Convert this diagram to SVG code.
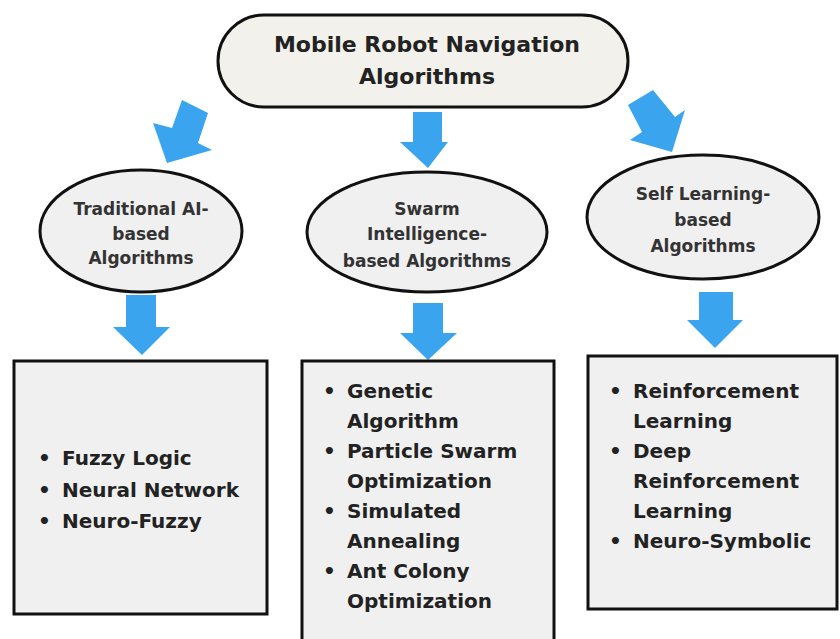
<svg xmlns="http://www.w3.org/2000/svg" width="840" height="639" viewBox="0 0 840 639">
<style>
.shape{fill:#f0f0f0;stroke:#111;stroke-width:3}
.arrow{fill:#3aa4ef}
.t{font-family:"DejaVu Sans","Open Sans",sans-serif;font-weight:700;fill:#222}
.h{font-size:22px;text-anchor:middle}
.e{font-size:17px;text-anchor:middle;fill:#333}
.b{font-size:20px}
</style>
<rect x="0" y="0" width="840" height="639" fill="#ffffff"/>
<g id="connectors">
<polygon class="arrow" points="182,100 208,113 198,143 212,150 167,163 153,123 172,128"/>
<polygon class="arrow" points="413,112 442,112 442,142 448,142 428,168 400,142 413,142"/>
<polygon class="arrow" points="628,105 653,90 675,117 685,110 672,152 630,140 642,132"/>
<polygon class="arrow" points="126,295 156,295 156,327 170,327 142,355 113,327 126,327"/>
<polygon class="arrow" points="413,303 443,303 443,333 457,333 428,360 400,333 413,333"/>
<polygon class="arrow" points="699,292 733,292 733,320 743,320 715,348 687,320 699,320"/>
</g>
<g id="root">
<rect class="shape" x="218" y="15" width="410" height="92" rx="46" ry="46" style="fill:#f2f1ec"/>
<text class="t h" x="427" y="52">Mobile Robot Navigation</text>
<text class="t h" x="427" y="84">Algorithms</text>
</g>
<g id="traditional">
<ellipse class="shape" cx="141" cy="231" rx="101" ry="61"/>
<text class="t e" x="141" y="215">Traditional AI-</text>
<text class="t e" x="141" y="240">based</text>
<text class="t e" x="141" y="264">Algorithms</text>
</g>
<g id="swarm">
<ellipse class="shape" cx="427" cy="232" rx="120" ry="60"/>
<text class="t e" x="427" y="215">Swarm</text>
<text class="t e" x="427" y="240">Intelligence-</text>
<text class="t e" x="427" y="267">based Algorithms</text>
</g>
<g id="selflearning">
<ellipse class="shape" cx="703" cy="217" rx="116" ry="62"/>
<text class="t e" x="703" y="200">Self Learning-</text>
<text class="t e" x="703" y="226">based</text>
<text class="t e" x="703" y="252">Algorithms</text>
</g>
<g id="box-traditional">
<rect class="shape" x="14" y="361" width="253" height="253"/>
<text class="t b" x="38" y="465">•</text><text class="t b" x="62" y="465">Fuzzy Logic</text>
<text class="t b" x="38" y="497">•</text><text class="t b" x="62" y="497">Neural Network</text>
<text class="t b" x="38" y="528">•</text><text class="t b" x="62" y="528">Neuro-Fuzzy</text>
</g>
<g id="box-swarm">
<rect class="shape" x="302" y="361" width="252" height="290"/>
<text class="t b" x="323" y="398">•</text><text class="t b" x="347" y="398">Genetic</text>
<text class="t b" x="347" y="428">Algorithm</text>
<text class="t b" x="323" y="458">•</text><text class="t b" x="347" y="458">Particle Swarm</text>
<text class="t b" x="347" y="488">Optimization</text>
<text class="t b" x="323" y="518">•</text><text class="t b" x="347" y="518">Simulated</text>
<text class="t b" x="347" y="548">Annealing</text>
<text class="t b" x="323" y="578">•</text><text class="t b" x="347" y="578">Ant Colony</text>
<text class="t b" x="347" y="608">Optimization</text>
</g>
<g id="box-selflearning">
<rect class="shape" x="588" y="356" width="249" height="253"/>
<text class="t b" x="609" y="398">•</text><text class="t b" x="633" y="398">Reinforcement</text>
<text class="t b" x="633" y="428">Learning</text>
<text class="t b" x="609" y="458">•</text><text class="t b" x="633" y="458">Deep</text>
<text class="t b" x="633" y="488">Reinforcement</text>
<text class="t b" x="633" y="518">Learning</text>
<text class="t b" x="609" y="548">•</text><text class="t b" x="633" y="548">Neuro-Symbolic</text>
</g>
</svg>
